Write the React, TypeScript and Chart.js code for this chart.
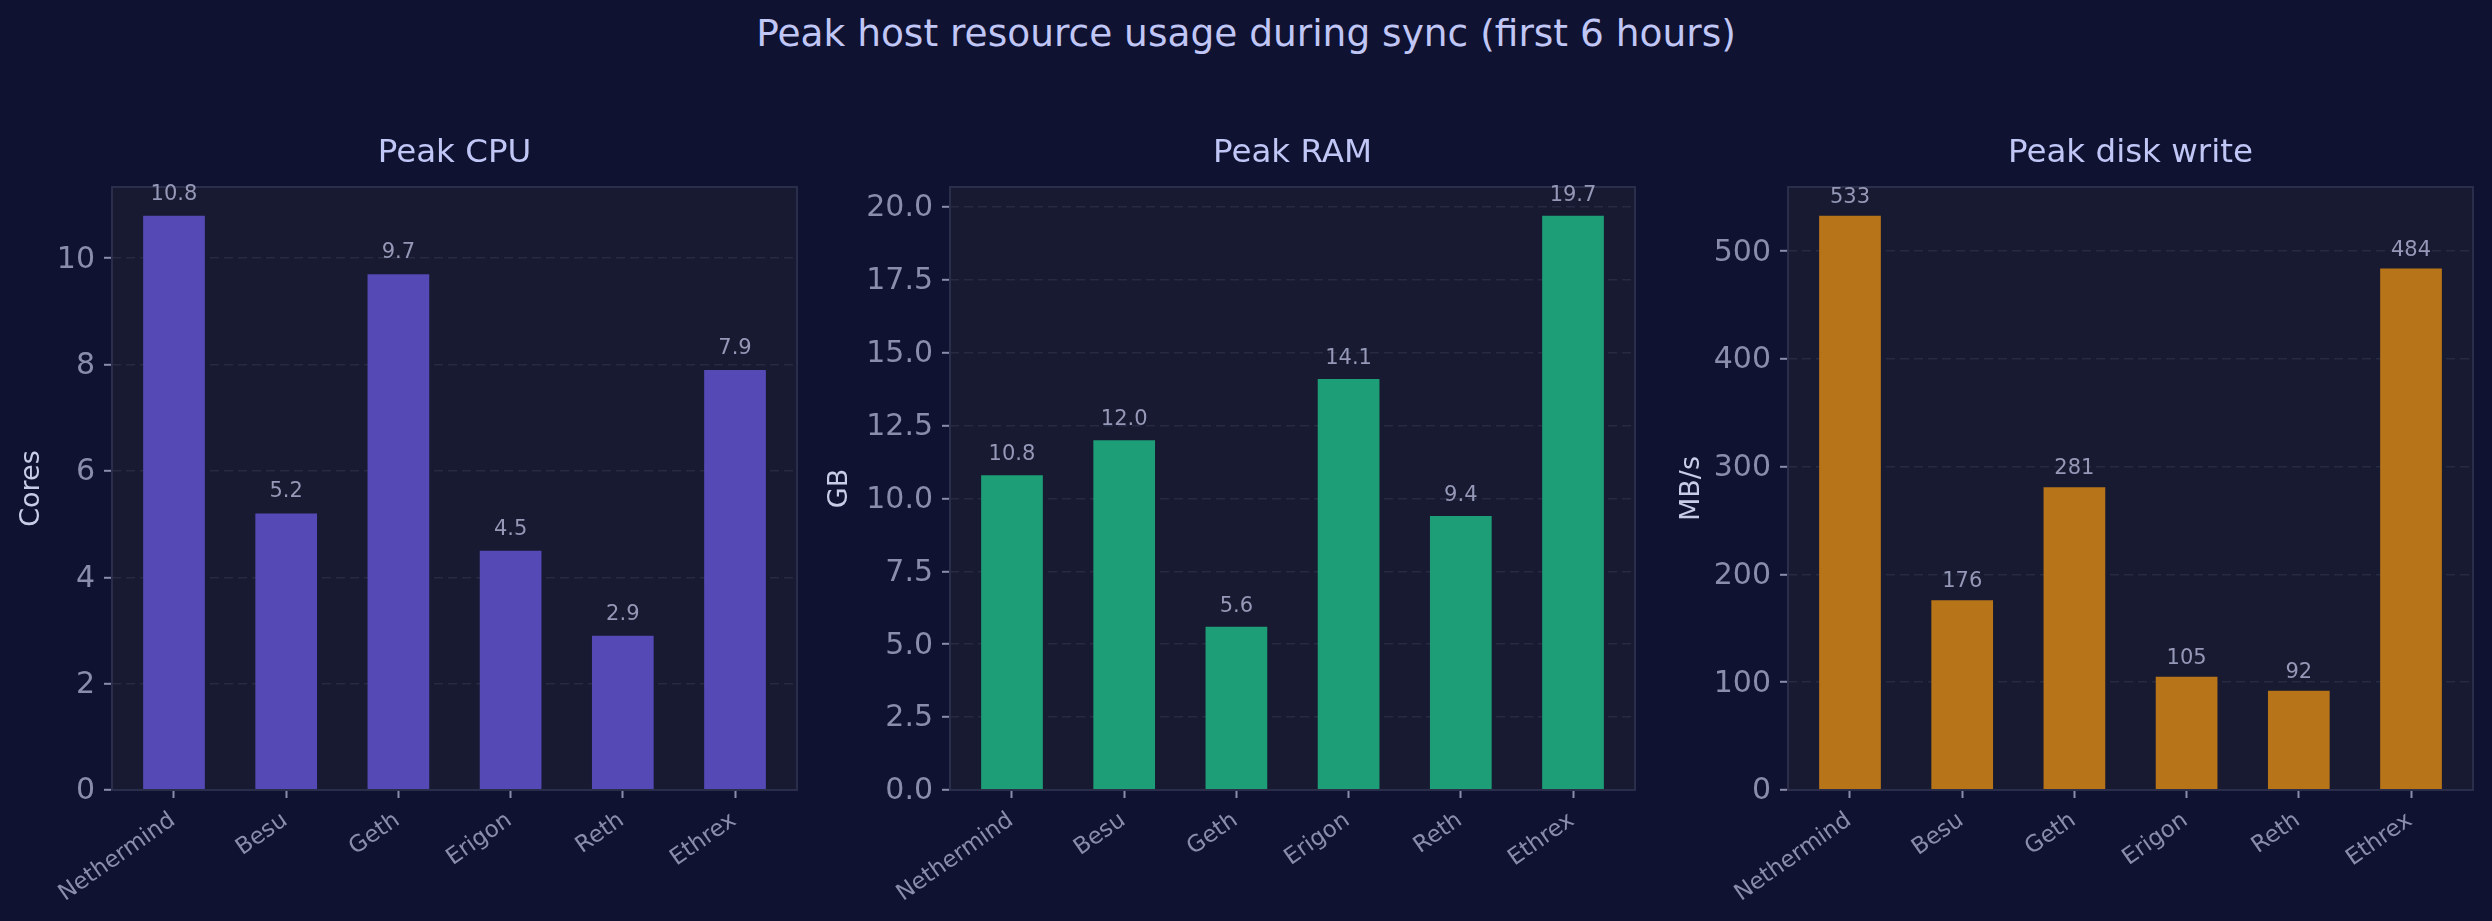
import React, { useEffect, useRef } from "react";
import { Chart, registerables } from "chart.js";

Chart.register(...registerables);

// ---------------- data ----------------
const SUPTITLE = "Peak host resource usage during sync (first 6 hours)";
const CLIENTS = ["Nethermind", "Besu", "Geth", "Erigon", "Reth", "Ethrex"];

const CPU_TITLE = "Peak CPU";
const CPU_LABEL = "Cores";
const CPU_CORES = [10.8, 5.2, 9.7, 4.5, 2.9, 7.9];
const CPU_TICKS = [0, 2, 4, 6, 8, 10];

const RAM_TITLE = "Peak RAM";
const RAM_LABEL = "GB";
const RAM_GB = [10.8, 12.0, 5.6, 14.1, 9.4, 19.7];
const RAM_TICKS = [0, 2.5, 5, 7.5, 10, 12.5, 15, 17.5, 20];

const DISK_TITLE = "Peak disk write";
const DISK_LABEL = "MB/s";
const DISK_MBPS = [533, 176, 281, 105, 92, 484];
const DISK_TICKS = [0, 100, 200, 300, 400, 500];

// ---------------- style ----------------
const FONT = "'DejaVu Sans', 'Liberation Sans', sans-serif";
const FIG_BG = "#0f1230";
const FACE = "#171a30";
const SPINE = "#2b2e4b";
const GRID = "#272a42";
const TICK_TEXT = "#8a8dab";
const VALUE_TEXT = "#9598b6";
const TITLE_TEXT = "#c0c6f5";
const LABEL_TEXT = "#c9cce6";
const W = 2492;
const H = 921;

type PanelCfg = {
  title: string;
  yLabel: string;
  values: number[];
  ticks: number[];
  tickDecimals: number;
  valueDecimals: number;
  color: string;
  left: number;
  yWidth: number;
  valueGap: number;
};

const PANELS: PanelCfg[] = [
  { title: CPU_TITLE, yLabel: CPU_LABEL, values: CPU_CORES, ticks: CPU_TICKS, tickDecimals: 0, valueDecimals: 1, color: "#5449b5", left: 12, yWidth: 100, valueGap: 16 },
  { title: RAM_TITLE, yLabel: RAM_LABEL, values: RAM_GB, ticks: RAM_TICKS, tickDecimals: 1, valueDecimals: 1, color: "#1e9e77", left: 820, yWidth: 130, valueGap: 15 },
  { title: DISK_TITLE, yLabel: DISK_LABEL, values: DISK_MBPS, ticks: DISK_TICKS, tickDecimals: 0, valueDecimals: 0, color: "#b87418", left: 1672, yWidth: 116, valueGap: 13 },
];

const AREA_TOP = 187;
const AREA_BOTTOM = 790;
const AREA_WIDTH = 685;
const RIGHT_PAD = 19;
const TITLE_BASELINE = 161.7;

function makePlugin(cfg: PanelCfg) {
  return {
    id: "mplStyle",
    beforeDraw(chart: any) {
      const { ctx, chartArea: a } = chart;
      ctx.save();
      ctx.fillStyle = FACE;
      ctx.fillRect(a.left, a.top, a.right - a.left, a.bottom - a.top);
      ctx.restore();
    },
    afterDatasetsDraw(chart: any) {
      const { ctx, chartArea: a } = chart;
      ctx.save();
      // spines
      ctx.strokeStyle = SPINE;
      ctx.lineWidth = 2;
      ctx.strokeRect(a.left, a.top, a.right - a.left, a.bottom - a.top);
      // subplot title
      ctx.fillStyle = TITLE_TEXT;
      ctx.font = `32.5px ${FONT}`;
      ctx.textAlign = "center";
      ctx.textBaseline = "alphabetic";
      ctx.fillText(cfg.title, (a.left + a.right) / 2, TITLE_BASELINE);
      // value labels
      ctx.fillStyle = VALUE_TEXT;
      ctx.font = `21px ${FONT}`;
      const meta = chart.getDatasetMeta(0);
      meta.data.forEach((bar: any, i: number) => {
        ctx.fillText(cfg.values[i].toFixed(cfg.valueDecimals), bar.x, bar.y - cfg.valueGap);
      });
      ctx.restore();
    },
  };
}

function Panel({ cfg }: { cfg: PanelCfg }) {
  const ref = useRef<HTMLCanvasElement>(null);
  const width = cfg.yWidth + AREA_WIDTH + RIGHT_PAD;
  useEffect(() => {
    const canvas = ref.current!;
    const maxV = Math.max(...cfg.values);
    const n = CLIENTS.length;
    const half = 0.275;
    const span = n - 1 + 2 * half;
    const chart = new Chart(canvas, {
      type: "bar",
      data: {
        datasets: [
          {
            data: cfg.values.map((v, i) => ({ x: i, y: v })) as any,
            backgroundColor: cfg.color,
            borderWidth: 0,
            barPercentage: 0.55,
            categoryPercentage: 1,
          },
        ],
      },
      options: {
        animation: false,
        responsive: false,
        maintainAspectRatio: false,
        layout: { padding: { top: AREA_TOP, right: RIGHT_PAD, bottom: 0, left: 0 } },
        plugins: {
          legend: { display: false },
          tooltip: { enabled: false },
          title: { display: false },
        },
        scales: {
          x: {
            type: "linear",
            min: -half - 0.05 * span,
            max: n - 1 + half + 0.05 * span,
            offset: false,
            afterBuildTicks: (s: any) => {
              s.ticks = CLIENTS.map((_, i) => ({ value: i }));
            },
            afterFit: (s: any) => {
              s.height = H - AREA_BOTTOM;
            },
            ticks: {
              autoSkip: false,
              minRotation: 35,
              maxRotation: 35,
              padding: 9,
              labelOffset: -1,
              color: TICK_TEXT,
              font: { family: FONT, size: 23 },
              callback: (v: any) => CLIENTS[Math.round(Number(v))] ?? "",
            },
            grid: {
              offset: false,
              drawOnChartArea: false,
              drawTicks: true,
              tickLength: 8,
              tickWidth: 2,
              tickColor: TICK_TEXT,
            },
            border: { display: false },
          },
          y: {
            type: "linear",
            min: 0,
            max: maxV * 1.05,
            afterBuildTicks: (s: any) => {
              s.ticks = cfg.ticks.map((v) => ({ value: v }));
            },
            afterFit: (s: any) => {
              s.width = cfg.yWidth;
            },
            ticks: {
              padding: 9,
              labelOffset: 1.5,
              color: TICK_TEXT,
              font: { family: FONT, size: 30 },
              callback: (v: any) => Number(v).toFixed(cfg.tickDecimals),
            },
            grid: {
              color: GRID,
              lineWidth: 1.6,
              drawTicks: true,
              tickLength: 8,
              tickWidth: 2,
              tickColor: TICK_TEXT,
              tickBorderDash: [],
            },
            border: { display: false, dash: [9, 5] },
            title: {
              display: true,
              text: cfg.yLabel,
              color: LABEL_TEXT,
              font: { family: FONT, size: 27, lineHeight: 1.2 },
              padding: { top: 4, bottom: 0 },
            },
          },
        },
      },
      plugins: [makePlugin(cfg)],
    } as any);
    return () => chart.destroy();
  }, []);
  return (
    <canvas
      ref={ref}
      width={width}
      height={H}
      style={{ position: "absolute", left: cfg.left, top: 0, width, height: H }}
    />
  );
}

export default function App() {
  return (
    <div
      style={{
        position: "absolute",
        left: 0,
        top: 0,
        width: W,
        height: H,
        background: FIG_BG,
        overflow: "hidden",
      }}
    >
      <div
        style={{
          position: "absolute",
          left: 0,
          top: 15,
          width: W,
          textAlign: "center",
          font: `37.5px ${FONT}`,
          lineHeight: "37px",
          color: TITLE_TEXT,
          whiteSpace: "nowrap",
        }}
      >
        {SUPTITLE}
      </div>
      {PANELS.map((p, i) => (
        <Panel key={i} cfg={p} />
      ))}
    </div>
  );
}
